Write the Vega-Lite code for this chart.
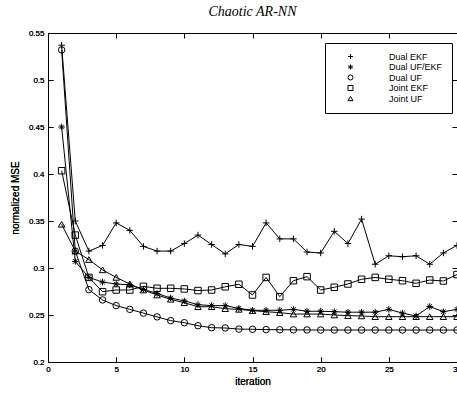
{
  "$schema": "https://vega.github.io/schema/vega-lite/v6.json",
  "autosize": {"type": "none"},
  "padding": {"left": 48, "top": 33, "right": 0, "bottom": 31},
  "width": 409,
  "height": 329,
  "background": "white",
  "config": {
    "view": {"stroke": "black", "strokeWidth": 1},
    "font": "Liberation Sans",
    "axis": {"domain": false, "grid": false, "labelFlush": false, "tickColor": "black", "tickSize": -5, "labelColor": "black", "labelFont": "Liberation Sans", "labelFontSize": 8, "titleFont": "Liberation Sans", "titleFontSize": 10, "titleFontWeight": "normal", "titleColor": "black"}
  },
  "title": {"text": "Chaotic AR-NN", "font": "Liberation Serif", "fontStyle": "italic", "fontWeight": "normal", "fontSize": 14, "anchor": "middle", "offset": 10, "color": "black"},
  "data": {"values": [
    {"s":"Dual EKF","x":1,"y":0.537},{"s":"Dual EKF","x":2,"y":0.350},{"s":"Dual EKF","x":3,"y":0.318},{"s":"Dual EKF","x":4,"y":0.324},{"s":"Dual EKF","x":5,"y":0.348},{"s":"Dual EKF","x":6,"y":0.340},{"s":"Dual EKF","x":7,"y":0.323},{"s":"Dual EKF","x":8,"y":0.318},{"s":"Dual EKF","x":9,"y":0.318},{"s":"Dual EKF","x":10,"y":0.326},{"s":"Dual EKF","x":11,"y":0.335},{"s":"Dual EKF","x":12,"y":0.325},{"s":"Dual EKF","x":13,"y":0.315},{"s":"Dual EKF","x":14,"y":0.325},{"s":"Dual EKF","x":15,"y":0.323},{"s":"Dual EKF","x":16,"y":0.348},{"s":"Dual EKF","x":17,"y":0.331},{"s":"Dual EKF","x":18,"y":0.331},{"s":"Dual EKF","x":19,"y":0.317},{"s":"Dual EKF","x":20,"y":0.316},{"s":"Dual EKF","x":21,"y":0.339},{"s":"Dual EKF","x":22,"y":0.326},{"s":"Dual EKF","x":23,"y":0.352},{"s":"Dual EKF","x":24,"y":0.304},{"s":"Dual EKF","x":25,"y":0.313},{"s":"Dual EKF","x":26,"y":0.312},{"s":"Dual EKF","x":27,"y":0.313},{"s":"Dual EKF","x":28,"y":0.304},{"s":"Dual EKF","x":29,"y":0.316},{"s":"Dual EKF","x":30,"y":0.324},
    {"s":"Dual UF/EKF","x":1,"y":0.450},{"s":"Dual UF/EKF","x":2,"y":0.307},{"s":"Dual UF/EKF","x":3,"y":0.290},{"s":"Dual UF/EKF","x":4,"y":0.285},{"s":"Dual UF/EKF","x":5,"y":0.283},{"s":"Dual UF/EKF","x":6,"y":0.282},{"s":"Dual UF/EKF","x":7,"y":0.277},{"s":"Dual UF/EKF","x":8,"y":0.273},{"s":"Dual UF/EKF","x":9,"y":0.268},{"s":"Dual UF/EKF","x":10,"y":0.265},{"s":"Dual UF/EKF","x":11,"y":0.261},{"s":"Dual UF/EKF","x":12,"y":0.260},{"s":"Dual UF/EKF","x":13,"y":0.260},{"s":"Dual UF/EKF","x":14,"y":0.257},{"s":"Dual UF/EKF","x":15,"y":0.255},{"s":"Dual UF/EKF","x":16,"y":0.255},{"s":"Dual UF/EKF","x":17,"y":0.255},{"s":"Dual UF/EKF","x":18,"y":0.256},{"s":"Dual UF/EKF","x":19,"y":0.254},{"s":"Dual UF/EKF","x":20,"y":0.254},{"s":"Dual UF/EKF","x":21,"y":0.2535},{"s":"Dual UF/EKF","x":22,"y":0.253},{"s":"Dual UF/EKF","x":23,"y":0.253},{"s":"Dual UF/EKF","x":24,"y":0.253},{"s":"Dual UF/EKF","x":25,"y":0.256},{"s":"Dual UF/EKF","x":26,"y":0.252},{"s":"Dual UF/EKF","x":27,"y":0.249},{"s":"Dual UF/EKF","x":28,"y":0.259},{"s":"Dual UF/EKF","x":29,"y":0.2535},{"s":"Dual UF/EKF","x":30,"y":0.256},
    {"s":"Dual UF","x":1,"y":0.532},{"s":"Dual UF","x":2,"y":0.318},{"s":"Dual UF","x":3,"y":0.277},{"s":"Dual UF","x":4,"y":0.266},{"s":"Dual UF","x":5,"y":0.260},{"s":"Dual UF","x":6,"y":0.256},{"s":"Dual UF","x":7,"y":0.252},{"s":"Dual UF","x":8,"y":0.248},{"s":"Dual UF","x":9,"y":0.244},{"s":"Dual UF","x":10,"y":0.2418},{"s":"Dual UF","x":11,"y":0.2386},{"s":"Dual UF","x":12,"y":0.2365},{"s":"Dual UF","x":13,"y":0.2362},{"s":"Dual UF","x":14,"y":0.235},{"s":"Dual UF","x":15,"y":0.2348},{"s":"Dual UF","x":16,"y":0.2345},{"s":"Dual UF","x":17,"y":0.2343},{"s":"Dual UF","x":18,"y":0.2342},{"s":"Dual UF","x":19,"y":0.2341},{"s":"Dual UF","x":20,"y":0.234},{"s":"Dual UF","x":21,"y":0.234},{"s":"Dual UF","x":22,"y":0.234},{"s":"Dual UF","x":23,"y":0.234},{"s":"Dual UF","x":24,"y":0.234},{"s":"Dual UF","x":25,"y":0.234},{"s":"Dual UF","x":26,"y":0.234},{"s":"Dual UF","x":27,"y":0.234},{"s":"Dual UF","x":28,"y":0.234},{"s":"Dual UF","x":29,"y":0.234},{"s":"Dual UF","x":30,"y":0.234},
    {"s":"Joint EKF","x":1,"y":0.4035},{"s":"Joint EKF","x":2,"y":0.335},{"s":"Joint EKF","x":3,"y":0.290},{"s":"Joint EKF","x":4,"y":0.2748},{"s":"Joint EKF","x":5,"y":0.2766},{"s":"Joint EKF","x":6,"y":0.2766},{"s":"Joint EKF","x":7,"y":0.2805},{"s":"Joint EKF","x":8,"y":0.2784},{"s":"Joint EKF","x":9,"y":0.2784},{"s":"Joint EKF","x":10,"y":0.2777},{"s":"Joint EKF","x":11,"y":0.276},{"s":"Joint EKF","x":12,"y":0.2766},{"s":"Joint EKF","x":13,"y":0.280},{"s":"Joint EKF","x":14,"y":0.2827},{"s":"Joint EKF","x":15,"y":0.2713},{"s":"Joint EKF","x":16,"y":0.290},{"s":"Joint EKF","x":17,"y":0.2695},{"s":"Joint EKF","x":18,"y":0.2865},{"s":"Joint EKF","x":19,"y":0.2908},{"s":"Joint EKF","x":20,"y":0.2766},{"s":"Joint EKF","x":21,"y":0.2795},{"s":"Joint EKF","x":22,"y":0.283},{"s":"Joint EKF","x":23,"y":0.288},{"s":"Joint EKF","x":24,"y":0.290},{"s":"Joint EKF","x":25,"y":0.288},{"s":"Joint EKF","x":26,"y":0.2865},{"s":"Joint EKF","x":27,"y":0.2837},{"s":"Joint EKF","x":28,"y":0.2872},{"s":"Joint EKF","x":29,"y":0.2862},{"s":"Joint EKF","x":30,"y":0.293},
    {"s":"Joint UF","x":1,"y":0.3465},{"s":"Joint UF","x":2,"y":0.318},{"s":"Joint UF","x":3,"y":0.309},{"s":"Joint UF","x":4,"y":0.298},{"s":"Joint UF","x":5,"y":0.290},{"s":"Joint UF","x":6,"y":0.283},{"s":"Joint UF","x":7,"y":0.2766},{"s":"Joint UF","x":8,"y":0.2713},{"s":"Joint UF","x":9,"y":0.2667},{"s":"Joint UF","x":10,"y":0.263},{"s":"Joint UF","x":11,"y":0.2588},{"s":"Joint UF","x":12,"y":0.2588},{"s":"Joint UF","x":13,"y":0.2567},{"s":"Joint UF","x":14,"y":0.256},{"s":"Joint UF","x":15,"y":0.2546},{"s":"Joint UF","x":16,"y":0.2535},{"s":"Joint UF","x":17,"y":0.2525},{"s":"Joint UF","x":18,"y":0.251},{"s":"Joint UF","x":19,"y":0.251},{"s":"Joint UF","x":20,"y":0.251},{"s":"Joint UF","x":21,"y":0.250},{"s":"Joint UF","x":22,"y":0.2493},{"s":"Joint UF","x":23,"y":0.249},{"s":"Joint UF","x":24,"y":0.2482},{"s":"Joint UF","x":25,"y":0.2482},{"s":"Joint UF","x":26,"y":0.2482},{"s":"Joint UF","x":27,"y":0.2482},{"s":"Joint UF","x":28,"y":0.2482},{"s":"Joint UF","x":29,"y":0.2482},{"s":"Joint UF","x":30,"y":0.2482}
  ]},
  "encoding": {
    "x": {"field": "x", "type": "quantitative", "scale": {"domain": [0, 30], "nice": false, "zero": false},
      "axis": {"orient": "bottom", "values": [0,5,10,15,20,25,30], "title": "iteration", "labelPadding": 8, "titlePadding": 3}},
    "y": {"field": "y", "type": "quantitative", "scale": {"domain": [0.2, 0.55], "nice": false, "zero": false},
      "axis": {"orient": "left", "values": [0.2,0.25,0.3,0.35,0.4,0.45,0.5,0.55], "format": "~g", "title": "normalized MSE", "labelPadding": 9, "titlePadding": 8}}
  },
  "layer": [
    {"mark": {"type": "line", "color": "black", "strokeWidth": 1, "clip": true},
     "encoding": {"detail": {"field": "s"}}},
    {"mark": {"type": "point", "filled": false, "color": "black", "strokeWidth": 1, "size": 42, "opacity": 1, "clip": true},
     "encoding": {
       "shape": {"field": "s", "type": "nominal",
         "scale": {"domain": ["Dual EKF","Dual UF/EKF","Dual UF","Joint EKF","Joint UF"],
                   "range": ["M-1,0L1,0M0,-1L0,1", "M-1,0L1,0M0,-1L0,1M-0.7,-0.7L0.7,0.7M-0.7,0.7L0.7,-0.7", "circle", "square", "triangle-up"]},
         "legend": {"orient": "none", "legendX": 277, "legendY": 10, "title": null, "labelFont": "Liberation Sans", "labelFontSize": 9, "labelColor": "black", "symbolStrokeColor": "black", "symbolFillColor": "transparent", "symbolSize": 25, "symbolStrokeWidth": 1, "labelOffset": 34, "rowPadding": 0.5, "padding": 9, "symbolOffset": 12, "strokeColor": "black", "fillColor": "white"}}
     }},
    {"mark": {"type": "point", "opacity": 0},
     "encoding": {
       "x": {"field": "x", "type": "quantitative", "axis": {"orient": "top", "values": [0,5,10,15,20,25,30], "labels": false, "title": null}},
       "y": {"field": "y", "type": "quantitative", "axis": {"orient": "right", "values": [0.2,0.25,0.3,0.35,0.4,0.45,0.5,0.55], "labels": false, "title": null}}
     }}
  ]
}
